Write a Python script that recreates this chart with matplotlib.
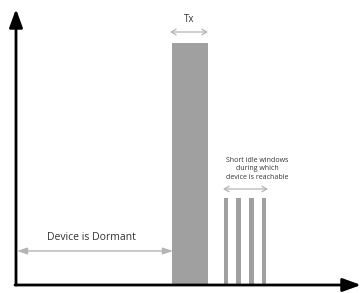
import matplotlib
matplotlib.use("Agg")
import matplotlib.pyplot as plt

# Data (time units on x, activity level on y)
tx_start = [156]
tx_width = [36]
tx_height = [242]
idle_centers = [210, 222.5, 235.5, 248]
idle_width = 4.5
idle_height = [87, 87, 87, 87]

labels = {
    "tx": "Tx",
    "idle": "Short idle windows\nduring which\ndevice is reachable",
    "dormant": "Device is Dormant",
}

W, H = 362, 293
fig = plt.figure(figsize=(W / 100, H / 100), dpi=100)
ax = fig.add_axes([16 / W, 8 / H, 346 / W, 285 / H])
ax.set_xlim(0, 346)
ax.set_ylim(0, 285)
ax.axis("off")

bar_color = "#a0a0a0"
ax.bar(tx_start, tx_height, width=tx_width, align="edge", color=bar_color, linewidth=0)
ax.bar(idle_centers, idle_height, width=idle_width, align="center", color=bar_color, linewidth=0)

# Axes arrows
ax.annotate("", xy=(0, 276), xytext=(0, 0),
            arrowprops=dict(arrowstyle="-|>,head_length=1.1,head_width=0.4", color="black", lw=2,
                            shrinkA=0, shrinkB=0), annotation_clip=False)
ax.annotate("", xy=(345, 0), xytext=(-1, 0),
            arrowprops=dict(arrowstyle="-|>,head_length=1.1,head_width=0.4", color="black", lw=2,
                            shrinkA=0, shrinkB=0), annotation_clip=False)

gray = "#b4b4b4"
text_color = "#333333"
# Dormant arrow
ax.annotate("", xy=(1, 34), xytext=(157, 34),
            arrowprops=dict(arrowstyle="<|-|>,head_length=0.6,head_width=0.2", color=gray, lw=1,
                            shrinkA=0, shrinkB=0))
ax.text(75, 48, labels["dormant"], ha="center", va="center", fontsize=7.5, family="Open Sans", color=text_color)

# Tx arrow
ax.annotate("", xy=(154, 253), xytext=(192, 253),
            arrowprops=dict(arrowstyle="<->,head_length=0.35,head_width=0.2", color=gray, lw=0.9,
                            shrinkA=0, shrinkB=0))
ax.text(173, 266, labels["tx"], ha="center", va="center", fontsize=7, family="Open Sans", color=text_color)

# Idle arrow
ax.annotate("", xy=(207, 96), xytext=(252, 96),
            arrowprops=dict(arrowstyle="<->,head_length=0.35,head_width=0.2", color=gray, lw=0.9,
                            shrinkA=0, shrinkB=0))
ax.text(241, 116, labels["idle"], ha="center", va="center", fontsize=5, family="Open Sans",
        color=text_color, linespacing=1.3)

fig.savefig("out.png", dpi=100)
